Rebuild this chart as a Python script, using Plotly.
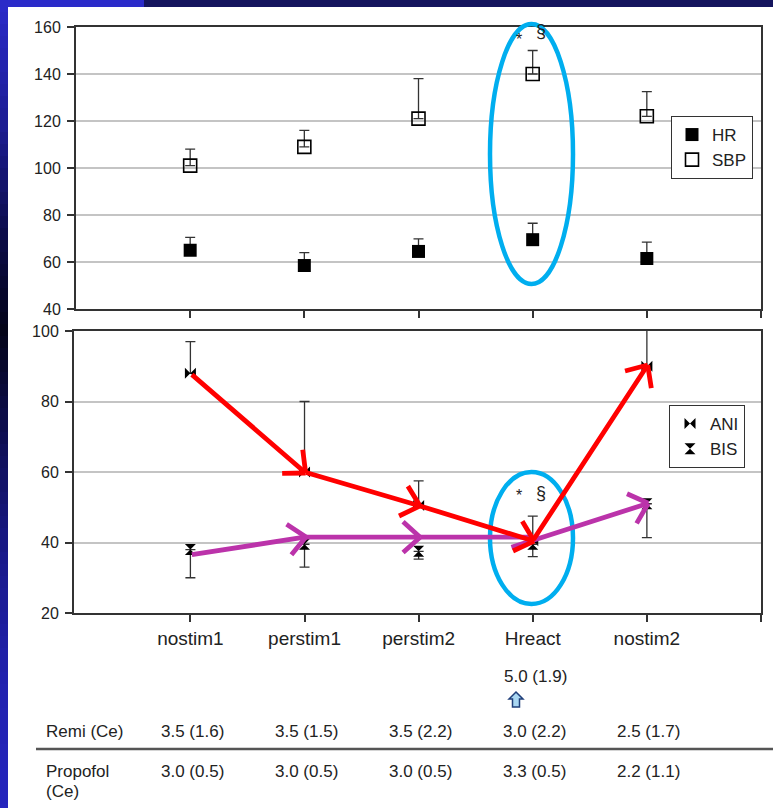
import math
import plotly.graph_objects as go

# ---------------- data ----------------
categories = ["nostim1", "perstim1", "perstim2", "Hreact", "nostim2"]
cat_pos = [1, 2, 3, 4, 5]

hr = [65, 58.5, 64.5, 69.5, 61.5]
hr_sd = [5.5, 5.5, 5.3, 7.0, 7.0]
sbp = [101, 109, 121, 140, 122]
sbp_sd = [7.0, 7.0, 17.0, 10.0, 10.5]

ani = [88, 60, 50.5, 40.5, 90]
ani_sd = [9.0, 20.0, 7.0, 7.0, 12.0]
bis = [38, 39.5, 37.5, 39.5, 51]
bis_sd = [8.0, 6.5, 2.2, 3.5, 9.6]

# overlay trend arrows (drawn by hand on the slide)
bis_arrow_tail_x = [1, 2, 3, 3.8]
bis_arrow_tail_y = [36.5, 41.5, 41.5, 38.5]
bis_arrow_head_x = [2, 3, 4, 5]
bis_arrow_head_y = [41.5, 41.5, 41.5, 51]
bis_arrow_has_head = [True, True, False, True]

remi_labels = ["3.5 (1.6)", "3.5 (1.5)", "3.5 (2.2)", "3.0 (2.2)", "2.5 (1.7)"]
propofol_labels = ["3.0 (0.5)", "3.0 (0.5)", "3.0 (0.5)", "3.3 (0.5)", "2.2 (1.1)"]
hreact_remi_label = "5.0 (1.9)"

top_ticks = [40, 60, 80, 100, 120, 140, 160]
bottom_ticks = [20, 40, 60, 80, 100]

# ---------------- style helpers ----------------
W, H = 773, 808
FONT = "Liberation Sans, Arial, sans-serif"
INK = "#222222"


def px(x):
    return x / W


def py(y):
    return 1 - y / H


# bottom panel geometry (pixels) used for arrow-head orientation
X2_PIX = (74, 761)
X2_RANGE = (-0.02, 6)
Y2_PIX = (613, 331)
Y2_RANGE = (20, 100)
SX = (X2_PIX[1] - X2_PIX[0]) / (X2_RANGE[1] - X2_RANGE[0])
SY = (Y2_PIX[0] - Y2_PIX[1]) / (Y2_RANGE[1] - Y2_RANGE[0])

fig = go.Figure()

err_style = dict(type="data", symmetric=False, color="#333333", thickness=1.3, width=5)
zeros = [0] * len(categories)

fig.add_trace(go.Scatter(
    x=cat_pos, y=hr, mode="markers", name="HR", xaxis="x", yaxis="y", legend="legend",
    marker=dict(symbol="square", size=13, color="black"),
    error_y=dict(array=hr_sd, arrayminus=zeros, **err_style)))
fig.add_trace(go.Scatter(
    x=cat_pos, y=sbp, mode="markers", name="SBP", xaxis="x", yaxis="y", legend="legend",
    marker=dict(symbol="square-open", size=13, color="black", line=dict(width=1.6, color="black")),
    error_y=dict(array=sbp_sd, arrayminus=zeros, **err_style)))
fig.add_trace(go.Scatter(
    x=cat_pos, y=ani, mode="markers", name="ANI", xaxis="x2", yaxis="y2", legend="legend2",
    marker=dict(symbol="bowtie", size=11, color="black"),
    error_y=dict(array=ani_sd, arrayminus=zeros, **err_style)))
fig.add_trace(go.Scatter(
    x=cat_pos, y=bis, mode="markers", name="BIS", xaxis="x2", yaxis="y2", legend="legend2",
    marker=dict(symbol="hourglass", size=11, color="black"),
    error_y=dict(array=zeros, arrayminus=bis_sd, **err_style)))

axis_common = dict(showline=True, linecolor="#333333", linewidth=2, mirror=True,
                   ticks="outside", ticklen=7, tickcolor="#333333", tickwidth=1.5,
                   zeroline=False, automargin=False,
                   tickfont=dict(family=FONT, size=16, color=INK))

fig.update_layout(
    template="none",
    width=W, height=H, autosize=False,
    margin=dict(l=0, r=0, t=0, b=0, pad=0, autoexpand=False),
    paper_bgcolor="white", plot_bgcolor="white",
    showlegend=True,
    xaxis=dict(domain=[px(76), px(761)], range=[0, 6], tickvals=[1, 2, 3, 4, 5, 6],
               showticklabels=False, showgrid=False, anchor="y", **axis_common),
    yaxis=dict(domain=[py(309), py(27)], range=[40, 160], tickvals=top_ticks,
               showgrid=True, gridcolor="#C4C4C4", gridwidth=1.5, anchor="x",
               ticklabelstandoff=3, **axis_common),
    xaxis2=dict(domain=[px(X2_PIX[0]), px(X2_PIX[1])], range=list(X2_RANGE),
                tickvals=[1, 2, 3, 4, 5, 6],
                ticktext=categories + [""], showgrid=False, anchor="y2",
                ticklabelstandoff=0, **{**axis_common, "tickfont": dict(family=FONT, size=19, color=INK)}),
    yaxis2=dict(domain=[py(Y2_PIX[0]), py(Y2_PIX[1])], range=list(Y2_RANGE), tickvals=bottom_ticks,
                showgrid=True, gridcolor="#C4C4C4", gridwidth=1.5, anchor="x2",
                ticklabelstandoff=3, **axis_common),
    legend=dict(x=px(753), y=py(116), xanchor="right", yanchor="top",
                bgcolor="white", bordercolor="#333333", borderwidth=1,
                font=dict(family=FONT, size=17, color=INK), itemwidth=30,
                tracegroupgap=0),
    legend2=dict(x=px(745), y=py(405), xanchor="right", yanchor="top",
                 bgcolor="white", bordercolor="#333333", borderwidth=1,
                 font=dict(family=FONT, size=17, color=INK), itemwidth=30,
                 tracegroupgap=0),
)

shapes = []
# slide background: top strip
shapes.append(dict(type="rect", xref="paper", yref="paper", x0=0, x1=px(144), y0=py(7), y1=1,
                   fillcolor="#2B2BC9", line=dict(width=0), layer="below"))
shapes.append(dict(type="rect", xref="paper", yref="paper", x0=px(144), x1=1, y0=py(7), y1=1,
                   fillcolor="#15155E", line=dict(width=0), layer="below"))
# left strip gradient
stops = [(0, (43, 43, 203)), (120, (30, 30, 150)), (240, (12, 12, 70)), (330, (5, 5, 25)),
         (450, (16, 16, 90)), (560, (26, 26, 140)), (680, (34, 34, 175)), (808, (38, 38, 190))]


def col_at(y):
    for (y0, c0), (y1, c1) in zip(stops[:-1], stops[1:]):
        if y0 <= y <= y1:
            t = (y - y0) / (y1 - y0)
            return "rgb(%d,%d,%d)" % tuple(int(a + (b - a) * t) for a, b in zip(c0, c1))
    return "rgb(%d,%d,%d)" % stops[-1][1]


step = 12
for y in range(0, H, step):
    shapes.append(dict(type="rect", xref="paper", yref="paper", x0=0, x1=px(8),
                       y0=py(min(y + step, H)), y1=py(y),
                       fillcolor=col_at(y + step / 2), line=dict(width=0), layer="below"))

# highlight ellipses
ell = dict(type="circle", xref="paper", yref="paper", line=dict(color="#00AEEF", width=4.5))
shapes.append(dict(ell, x0=px(490), x1=px(573), y0=py(284), y1=py(24)))
shapes.append(dict(ell, x0=px(490), x1=px(573), y0=py(604), y1=py(472)))

# table separator
shapes.append(dict(type="line", xref="paper", yref="paper", x0=px(36), x1=1, y0=py(749), y1=py(749),
                   line=dict(color="#555555", width=2.5)))

# small up arrow icon
pts = [(516, 692), (523, 699), (519.5, 699), (519.5, 707), (512.5, 707), (512.5, 699), (509, 699)]
path = "M " + " L ".join("%f,%f" % (px(a), py(b)) for a, b in pts) + " Z"
shapes.append(dict(type="path", xref="paper", yref="paper", path=path,
                   fillcolor="#A9D7F2", line=dict(color="#1F3F7A", width=1.5)))

fig.update_layout(shapes=shapes)

ann = []
ARM = 25
LW = 4.8


def add_arrow(tx, ty, hx, hy, color, head=True):
    # shaft
    ann.append(dict(x=hx, y=hy, ax=tx, ay=ty, xref="x2", yref="y2", axref="x2", ayref="y2",
                    text="", showarrow=True, arrowhead=0, arrowwidth=LW, arrowcolor=color,
                    standoff=0, startstandoff=0))
    if not head:
        return
    # open chevron head: two short strokes from the tip
    dxp = (hx - tx) * SX
    dyp = -(hy - ty) * SY
    n = math.hypot(dxp, dyp)
    bx, by = -dxp / n, -dyp / n
    for s in (1, -1):
        a = s * math.radians(42)
        rx = bx * math.cos(a) - by * math.sin(a)
        ry = bx * math.sin(a) + by * math.cos(a)
        ann.append(dict(x=hx, y=hy, xref="x2", yref="y2", ax=rx * ARM, ay=ry * ARM,
                        xshift=-bx * 1.5, yshift=by * 1.5,
                        text="", showarrow=True, arrowhead=0, arrowwidth=LW, arrowcolor=color,
                        standoff=0, startstandoff=0))


# trend arrows (magenta first, red on top)
for tx, ty, hx, hy, has in zip(bis_arrow_tail_x, bis_arrow_tail_y, bis_arrow_head_x,
                               bis_arrow_head_y, bis_arrow_has_head):
    add_arrow(tx, ty, hx, hy, "#BB33AA", has)
for i in range(len(ani) - 1):
    add_arrow(cat_pos[i], ani[i], cat_pos[i + 1], ani[i + 1], "#FF0000", True)

sym_font = dict(family=FONT, size=16, color=INK)
mid = dict(xref="paper", yref="paper", showarrow=False, yanchor="middle")
ann += [
    dict(x=px(524), y=py(39), text="*", font=sym_font, **mid),
    dict(x=px(548), y=py(31), text="§", font=dict(sym_font, size=18), **mid),
    dict(x=px(524), y=py(495), text="*", font=sym_font, **mid),
    dict(x=px(548), y=py(493), text="§", font=dict(sym_font, size=18), **mid),
]

tfont = dict(family=FONT, size=17, color=INK)
ann.append(dict(x=4, y=py(676), xref="x2", yref="paper", text=hreact_remi_label, xshift=3,
                yanchor="middle", showarrow=False, font=tfont))
ann.append(dict(x=px(44), y=py(731), text="Remi (Ce)", xanchor="left", font=tfont, **mid))
ann.append(dict(x=px(44), y=py(771), text="Propofol", xanchor="left", font=tfont, **mid))
ann.append(dict(x=px(44), y=py(791), text="(Ce)", xanchor="left", font=tfont, **mid))
for xpos, r, p in zip(cat_pos, remi_labels, propofol_labels):
    ann.append(dict(x=xpos, y=py(731), xref="x2", yref="paper", text=r, xshift=2,
                    yanchor="middle", showarrow=False, font=tfont))
    ann.append(dict(x=xpos, y=py(771), xref="x2", yref="paper", text=p, xshift=2,
                    yanchor="middle", showarrow=False, font=tfont))

fig.update_layout(annotations=ann)

fig.write_html("out.html", config={"displayModeBar": False},
               post_script="document.body.style.margin='0';document.body.style.overflow='hidden';")
